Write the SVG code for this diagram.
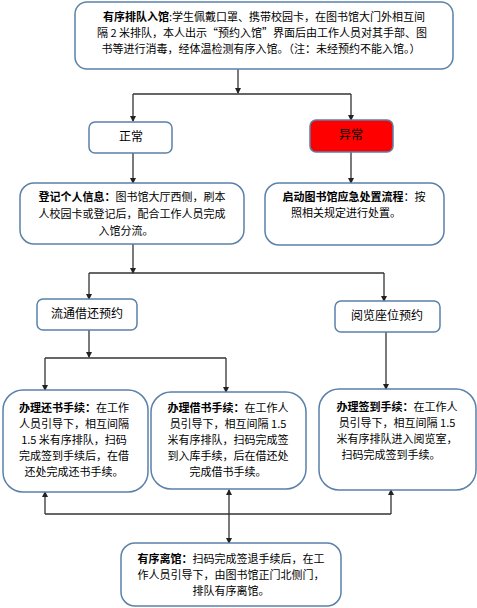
<svg xmlns="http://www.w3.org/2000/svg" width="477" height="608" viewBox="0 0 477 608">
<defs>
<marker id="ah" markerWidth="6" markerHeight="6" refX="5" refY="3" orient="auto" markerUnits="userSpaceOnUse">
<path d="M0,0 L6,3 L0,6 Z" fill="#222"/>
</marker>
<marker id="ahs" markerWidth="6" markerHeight="6" refX="1" refY="3" orient="auto" markerUnits="userSpaceOnUse">
<path d="M6,0 L0,3 L6,6 Z" fill="#222"/>
</marker>
<style>
.box{fill:#fff;stroke:#5b80aa;stroke-width:1.5}
.red{fill:#ff0000;stroke:#5b80aa;stroke-width:1.5}
.t{font-family:"Noto Sans CJK SC","Liberation Sans",sans-serif;font-size:11px;fill:#000;text-anchor:middle}
.l{font-size:12px}
.b{font-weight:bold}
.c{fill:none;stroke:#333;stroke-width:1.3}
</style>
</defs>
<g id="connectors">
<path class="c" d="M238 69 V93" marker-end="url(#ah)"/>
<path class="c" d="M133 94 H351"/>
<path class="c" d="M133 94 V121" marker-end="url(#ah)"/>
<path class="c" d="M351 94 V120" marker-end="url(#ah)"/>
<path class="c" d="M133 153 V183" marker-end="url(#ah)"/>
<path class="c" d="M351 152 V183" marker-end="url(#ah)"/>
<path class="c" d="M133 244 V273" marker-end="url(#ah)"/>
<path class="c" d="M89 273 H384"/>
<path class="c" d="M89 273 V299" marker-end="url(#ah)"/>
<path class="c" d="M384 273 V301" marker-end="url(#ah)"/>
<path class="c" d="M89 330 V357" marker-end="url(#ah)"/>
<path class="c" d="M45 358 H226"/>
<path class="c" d="M45 358 V390" marker-end="url(#ah)"/>
<path class="c" d="M226 358 V392" marker-end="url(#ah)"/>
<path class="c" d="M386 332 V389" marker-end="url(#ah)"/>
<path class="c" d="M45 514 H391"/>
<path class="c" d="M45 514 V492" marker-end="url(#ah)"/>
<path class="c" d="M391 514 V490" marker-end="url(#ah)"/>
<path class="c" d="M229 490 V543" marker-start="url(#ahs)" marker-end="url(#ah)"/>
</g>
<g id="enter">
<rect class="box" x="75" y="2" width="378" height="67" rx="12"/>
<text class="t" x="264" y="20.5"><tspan class="b">有序排队入馆</tspan>:学生佩戴口罩、携带校园卡，在图书馆大门外相互间</text>
<text class="t" x="262" y="36.5">隔 2 米排队，本人出示“预约入馆”界面后由工作人员对其手部、图</text>
<text class="t" x="261" y="52.5">书等进行消毒，经体温检测有序入馆。（注：未经预约不能入馆。）</text>
</g>
<g id="normal">
<rect class="box" x="89" y="122" width="83" height="31" rx="6"/>
<text class="t l" x="131" y="141">正常</text>
</g>
<g id="abnormal">
<rect class="red" x="310" y="120" width="83" height="32" rx="6"/>
<text class="t l" x="351" y="139">异常</text>
</g>
<g id="register">
<rect class="box" x="20" y="183" width="224" height="61" rx="14"/>
<text class="t" x="132" y="201"><tspan class="b">登记个人信息：</tspan>图书馆大厅西侧，刷本</text>
<text class="t" x="132" y="218">人校园卡或登记后，配合工作人员完成</text>
<text class="t" x="126" y="235">入馆分流。</text>
</g>
<g id="emergency">
<rect class="box" x="265" y="183" width="179" height="62" rx="14"/>
<text class="t" x="354" y="201"><tspan class="b">启动图书馆应急处置流程</tspan>：按</text>
<text class="t" x="346" y="217">照相关规定进行处置。</text>
</g>
<g id="circulation">
<rect class="box" x="37" y="299" width="100" height="31" rx="6"/>
<text class="t l" x="87" y="318">流通借还预约</text>
</g>
<g id="reading">
<rect class="box" x="335" y="301" width="105" height="31" rx="6"/>
<text class="t l" x="387" y="320">阅览座位预约</text>
</g>
<g id="return">
<rect class="box" x="3" y="390" width="145" height="102" rx="20"/>
<text class="t" x="74" y="412"><tspan class="b">办理还书手续：</tspan>在工作</text>
<text class="t" x="74" y="428">人员引导下，相互间隔</text>
<text class="t" x="74" y="444">1.5 米有序排队，扫码</text>
<text class="t" x="74" y="460">完成签到手续后，在借</text>
<text class="t" x="74" y="476">还处完成还书手续。</text>
</g>
<g id="borrow">
<rect class="box" x="151" y="392" width="155" height="97" rx="20"/>
<text class="t" x="228" y="412"><tspan class="b">办理借书手续：</tspan>在工作人</text>
<text class="t" x="228" y="428">员引导下，相互间隔 1.5</text>
<text class="t" x="228" y="444">米有序排队，扫码完成签</text>
<text class="t" x="228" y="460">到入库手续，后在借还处</text>
<text class="t" x="228" y="476">完成借书手续。</text>
</g>
<g id="signin">
<rect class="box" x="319" y="389" width="157" height="101" rx="20"/>
<text class="t" x="397" y="411"><tspan class="b">办理签到手续：</tspan>在工作人</text>
<text class="t" x="397" y="427">员引导下，相互间隔 1.5</text>
<text class="t" x="397" y="443">米有序排队进入阅览室，</text>
<text class="t" x="391" y="459">扫码完成签到手续。</text>
</g>
<g id="leave">
<rect class="box" x="121" y="543" width="220" height="63" rx="14"/>
<text class="t" x="231" y="563"><tspan class="b">有序离馆：</tspan>扫码完成签退手续后，在工</text>
<text class="t" x="231" y="579">作人员引导下，由图书馆正门北侧门，</text>
<text class="t" x="231" y="595">排队有序离馆。</text>
</g>
</svg>
